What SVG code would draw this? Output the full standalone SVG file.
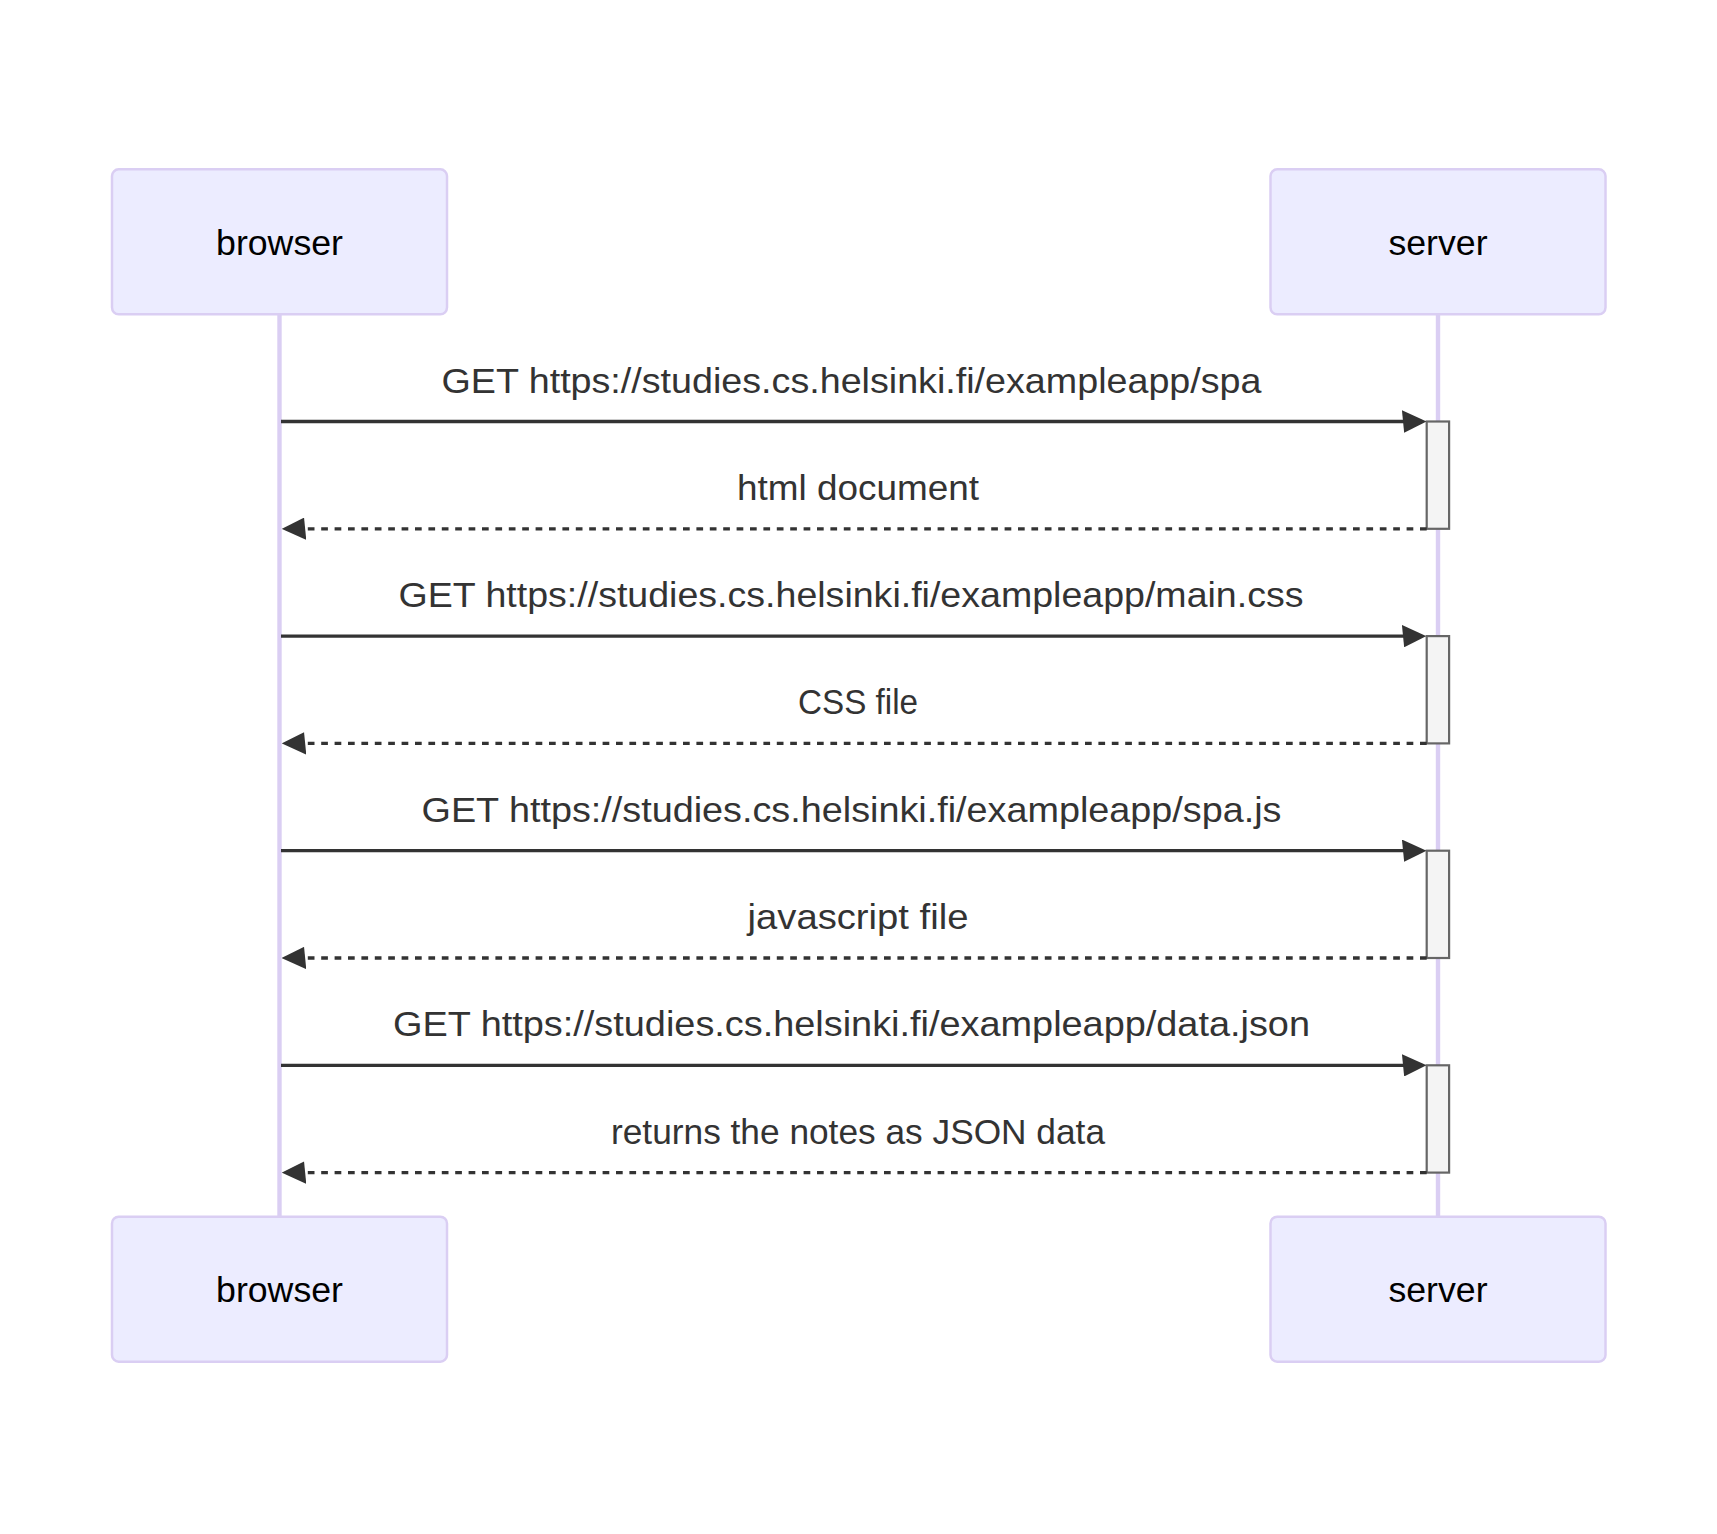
<svg xmlns="http://www.w3.org/2000/svg" width="1717" height="1534" viewBox="0 0 1717 1534">
<style>
.actor{fill:#ECECFF;stroke:#DACEF3;stroke-width:2.5}
.actor-text{font-family:"Liberation Sans",Arial,sans-serif;font-size:35.7px;fill:#000;text-anchor:middle}
.lifeline{stroke:#DACEF3;stroke-width:4.4}
.msg{stroke:#333;stroke-width:3.3;fill:none}
.dashed{stroke-dasharray:6.7 6.7}
.label{font-family:"Liberation Sans",Arial,sans-serif;font-size:35.7px;fill:#333;text-anchor:middle}
.activation{fill:#F4F4F4;stroke:#666;stroke-width:2.2}
</style>
<defs>
<marker id="arrowhead" viewBox="-1 0 11 10" refX="7.9" refY="5" markerUnits="userSpaceOnUse" markerWidth="24.56" markerHeight="22.33" orient="auto">
<path d="M -1 0 L 10 5 L 0 10 z" fill="#333"/>
</marker>
</defs>
<rect width="1717" height="1534" fill="#fff"/>
<g id="lifelines">
<line class="lifeline" x1="279.5" y1="314" x2="279.5" y2="1217"/>
<line class="lifeline" x1="1438" y1="314" x2="1438" y2="1217"/>
</g>
<g id="browser-top"><rect class="actor" x="112" y="169.3" width="335" height="145" rx="6.7"/><text class="actor-text" x="279.5" y="255">browser</text></g>
<g id="server-top"><rect class="actor" x="1270.5" y="169.3" width="335" height="145" rx="6.7"/><text class="actor-text" x="1438" y="255">server</text></g>
<g id="browser-bottom"><rect class="actor" x="112" y="1216.7" width="335" height="145" rx="6.7"/><text class="actor-text" x="279.5" y="1302">browser</text></g>
<g id="server-bottom"><rect class="actor" x="1270.5" y="1216.7" width="335" height="145" rx="6.7"/><text class="actor-text" x="1438" y="1302">server</text></g>
<g id="activations">
<rect class="activation" x="1426.7" y="421.5" width="22.4" height="107.3"/>
<rect class="activation" x="1426.7" y="636.1" width="22.4" height="107.3"/>
<rect class="activation" x="1426.7" y="850.7" width="22.4" height="107.3"/>
<rect class="activation" x="1426.7" y="1065.3" width="22.4" height="107.3"/>
</g>
<g id="connectors">
<line class="msg" x1="281" y1="421.5" x2="1421.8" y2="421.5" marker-end="url(#arrowhead)"/>
<line class="msg dashed" x1="1426.7" y1="528.8" x2="286.4" y2="528.8" marker-end="url(#arrowhead)"/>
<line class="msg" x1="281" y1="636.1" x2="1421.8" y2="636.1" marker-end="url(#arrowhead)"/>
<line class="msg dashed" x1="1426.7" y1="743.4" x2="286.4" y2="743.4" marker-end="url(#arrowhead)"/>
<line class="msg" x1="281" y1="850.7" x2="1421.8" y2="850.7" marker-end="url(#arrowhead)"/>
<line class="msg dashed" x1="1426.7" y1="958" x2="286.4" y2="958" marker-end="url(#arrowhead)"/>
<line class="msg" x1="281" y1="1065.3" x2="1421.8" y2="1065.3" marker-end="url(#arrowhead)"/>
<line class="msg dashed" x1="1426.7" y1="1172.6" x2="286.4" y2="1172.6" marker-end="url(#arrowhead)"/>
</g>
<g id="labels">
<text class="label" x="851.5" y="392.5" textLength="820" lengthAdjust="spacingAndGlyphs">GET https://studies.cs.helsinki.fi/exampleapp/spa</text>
<text class="label" x="858" y="499.8" textLength="242" lengthAdjust="spacingAndGlyphs">html document</text>
<text class="label" x="851" y="607.1" textLength="905" lengthAdjust="spacingAndGlyphs">GET https://studies.cs.helsinki.fi/exampleapp/main.css</text>
<text class="label" x="858" y="714.4" textLength="120" lengthAdjust="spacingAndGlyphs">CSS file</text>
<text class="label" x="851.5" y="821.7" textLength="860" lengthAdjust="spacingAndGlyphs">GET https://studies.cs.helsinki.fi/exampleapp/spa.js</text>
<text class="label" x="858" y="929" textLength="221" lengthAdjust="spacingAndGlyphs">javascript file</text>
<text class="label" x="851.5" y="1036.3" textLength="917" lengthAdjust="spacingAndGlyphs">GET https://studies.cs.helsinki.fi/exampleapp/data.json</text>
<text class="label" x="858" y="1143.6" textLength="494" lengthAdjust="spacingAndGlyphs">returns the notes as JSON data</text>
</g>
</svg>
